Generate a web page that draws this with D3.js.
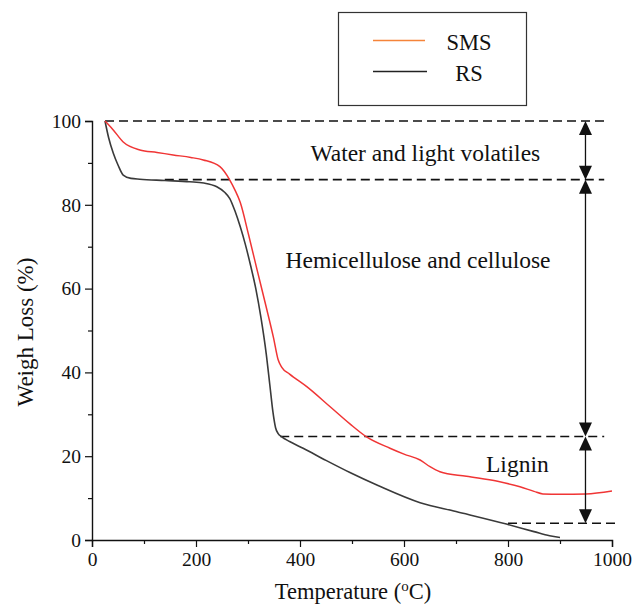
<!DOCTYPE html>
<html>
<head>
<meta charset="utf-8">
<script src="https://cdn.jsdelivr.net/npm/d3@7"></script>
<style>
  body { margin: 0; background: #fff; }
  svg text { font-family: "Liberation Serif", "Times New Roman", serif; fill: #111; }
</style>
</head>
<body>
<div id="chart"></div>
<script>
// TGA data
var smsTemp   = [25, 40, 60, 92, 125, 156, 190, 214, 246, 265, 275, 285, 301, 317, 335, 349, 358, 365, 380, 413, 458, 496, 528, 573, 600, 631, 650, 669, 720, 780, 823, 850, 867, 900, 950, 1000];
var smsWeight = [100, 98, 95, 93.1, 92.5, 91.9, 91.3, 90.7, 89.1, 85.9, 83.5, 80.6, 72.9, 64.7, 55.6, 48.3, 43, 41.2, 39.6, 36.6, 31.8, 27.7, 24.6, 21.9, 20.5, 19.1, 17.5, 16.3, 15.2, 14, 12.7, 11.6, 11, 10.9, 11, 11.7];

var rsTemp   = [25, 32, 41, 50, 60, 75, 92, 140, 188, 215, 240, 255, 265, 275, 285, 295, 305, 315, 325, 335, 342, 348, 353, 358, 365, 380, 406, 450, 496, 550, 631, 700, 797, 850, 880, 900];
var rsWeight = [100, 96, 92.3, 89.5, 87.1, 86.3, 86.1, 85.8, 85.5, 85.2, 84.3, 83, 81.5, 78.5, 74.8, 70.5, 65.5, 60, 53, 44.5, 37, 30.5, 26.8, 25.4, 24.6, 23.5, 21.9, 19, 16.1, 13, 8.9, 6.8, 3.8, 2, 1, 0.6];

var xTicks = [0, 200, 400, 600, 800, 1000];
var xMinor = [100, 300, 500, 700, 900];
var yTicks = [0, 20, 40, 60, 80, 100];
var yMinor = [10, 30, 50, 70, 90];

// stage boundaries (weight %) and where each dashed guide starts/ends (temperature)
var levels     = [100, 86, 24.7, 4];
var levelStart = [25, 140, 362, 800];
var levelEnd   = [985, 985, 985, 1007];
var arrowTemp  = 949;

var stageNames = ["Water and light volatiles", "Hemicellulose and cellulose", "Lignin"];
var stageTemp  = [641, 627, 818];
var stageY     = [90.5, 65, 16.3];

var seriesNames = ["SMS", "RS"];

var serif = "Liberation Serif, Times New Roman, serif";
var svgWidth = 632, svgHeight = 605;
var svg = d3.select("#chart").append("svg")
  .attr("width", svgWidth)
  .attr("height", svgHeight);

var x = d3.scaleLinear().domain([0, 1000]).range([92, 612]);
var y = d3.scaleLinear().domain([0, 100]).range([540, 121]);

// axes
svg.append("g")
  .attr("transform", "translate(0," + y(0) + ")")
  .call(d3.axisBottom(x).tickValues(xTicks).tickSize(7).tickPadding(5).tickFormat(d3.format("d")));
svg.append("g")
  .attr("transform", "translate(0," + y(0) + ")")
  .call(d3.axisBottom(x).tickValues(xMinor).tickSize(4).tickFormat(""))
  .select(".domain").remove();

svg.append("g")
  .attr("transform", "translate(" + x(0) + ",0)")
  .call(d3.axisLeft(y).tickValues(yTicks).tickSize(7).tickPadding(4).tickFormat(d3.format("d")));
svg.append("g")
  .attr("transform", "translate(" + x(0) + ",0)")
  .call(d3.axisLeft(y).tickValues(yMinor).tickSize(4).tickFormat(""))
  .select(".domain").remove();

svg.selectAll("g").attr("font-family", serif);
svg.selectAll(".domain").attr("stroke", "#111").attr("stroke-width", 1.4);
svg.selectAll(".tick line").attr("stroke", "#111").attr("stroke-width", 1.2);
svg.selectAll(".tick text")
  .attr("font-family", serif)
  .style("font-family", serif)
  .style("font-size", "19.5px")
  .attr("fill", "#111");

// axis titles
var xTitle = svg.append("text")
  .attr("x", 353)
  .attr("y", 599)
  .attr("text-anchor", "middle")
  .style("font-size", "22.5px");
xTitle.append("tspan").text("Temperature (");
xTitle.append("tspan").attr("dy", -8).style("font-size", "15px").text("o");
xTitle.append("tspan").attr("dy", 8).text("C)");

svg.append("text")
  .attr("transform", "translate(33,332) rotate(-90)")
  .attr("text-anchor", "middle")
  .style("font-size", "23px")
  .text("Weigh Loss (%)");

// dashed guides
svg.selectAll(".guide")
  .data(levels)
  .enter()
  .append("line")
  .attr("class", "guide")
  .attr("x1", (d, i) => x(levelStart[i]))
  .attr("x2", (d, i) => x(levelEnd[i]))
  .attr("y1", d => y(d))
  .attr("y2", d => y(d))
  .attr("stroke", "#111")
  .attr("stroke-width", 1.6)
  .attr("stroke-dasharray", "9,5");

// curves
var line = d3.line().curve(d3.curveMonotoneX);
svg.append("path")
  .attr("d", line(rsTemp.map((t, i) => [x(t), y(rsWeight[i])])))
  .attr("fill", "none")
  .attr("stroke", "#3a3a3a")
  .attr("stroke-width", 1.6);
svg.append("path")
  .attr("d", line(smsTemp.map((t, i) => [x(t), y(smsWeight[i])])))
  .attr("fill", "none")
  .attr("stroke", "#f03535")
  .attr("stroke-width", 1.5);

// double-headed arrows between stage boundaries
var ax = x(arrowTemp), headW = 6.5, headH = 14;
d3.range(levels.length - 1).forEach(function(i) {
  var top = y(levels[i]), bot = y(levels[i + 1]);
  svg.append("line")
    .attr("x1", ax).attr("x2", ax)
    .attr("y1", top + headH - 1).attr("y2", bot - headH + 1)
    .attr("stroke", "#111").attr("stroke-width", 1.3);
  svg.append("path")
    .attr("d", "M" + ax + "," + top + "L" + (ax - headW) + "," + (top + headH) + "L" + (ax + headW) + "," + (top + headH) + "Z")
    .attr("fill", "#111");
  svg.append("path")
    .attr("d", "M" + ax + "," + bot + "L" + (ax - headW) + "," + (bot - headH) + "L" + (ax + headW) + "," + (bot - headH) + "Z")
    .attr("fill", "#111");
});

// stage labels
svg.selectAll(".stage")
  .data(stageNames)
  .enter()
  .append("text")
  .attr("class", "stage")
  .attr("x", (d, i) => x(stageTemp[i]))
  .attr("y", (d, i) => y(stageY[i]))
  .attr("text-anchor", "middle")
  .style("font-size", "23.5px")
  .text(d => d);

// legend
var legend = svg.append("g");
legend.append("rect")
  .attr("x", 338.5).attr("y", 12.5)
  .attr("width", 188).attr("height", 93)
  .attr("fill", "#fff")
  .attr("stroke", "#333")
  .attr("stroke-width", 1.2);
var legendColors = ["#f5843a", "#222"];
seriesNames.forEach(function(name, i) {
  var ly = 40.5 + i * 31;
  legend.append("line")
    .attr("x1", 373).attr("x2", 425 + i * 2)
    .attr("y1", ly).attr("y2", ly)
    .attr("stroke", legendColors[i])
    .attr("stroke-width", 1.4);
  legend.append("text")
    .attr("x", 469)
    .attr("y", ly + 9.5)
    .attr("text-anchor", "middle")
    .style("font-size", "22.5px")
    .text(name);
});
</script>
</body>
</html>
